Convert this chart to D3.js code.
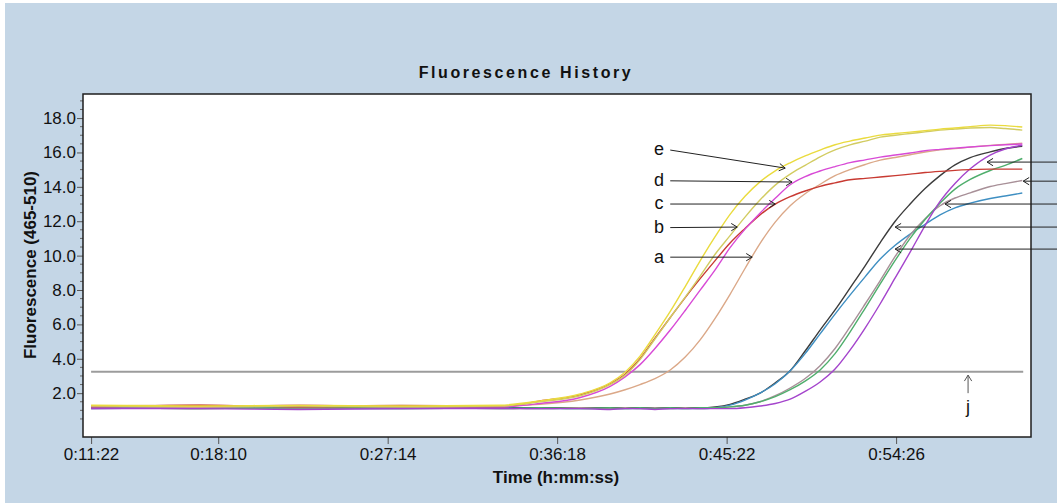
<!DOCTYPE html>
<html>
<head>
<meta charset="utf-8">
<script src="https://cdn.jsdelivr.net/npm/d3@7"></script>
<style>
  body { margin: 0; background: #fff; }
  svg { display: block; font-family: "Liberation Sans", Arial, sans-serif; }
</style>
</head>
<body>
<svg id="chart"></svg>
<script>
// sample times (seconds since start of run)
const times = [682, 1032, 1353, 1674, 1995, 2123, 2252, 2348, 2396, 2444, 2492, 2541, 2589, 2637, 2685,
  2733, 2781, 2829, 2878, 2926, 2974, 3022, 3070, 3118, 3167, 3215, 3263, 3311, 3359, 3407,
  3455, 3504, 3568, 3616, 3671];

// early group (labelled a-e)
const curveA = [1.25, 1.3, 1.2, 1.3, 1.25, 1.35, 1.6, 1.95, 2.2, 2.5, 2.85, 3.35, 4.1, 5.1, 6.35,
  7.75, 9.25, 10.7, 11.95, 12.9, 13.6, 14.15, 14.65, 15.0, 15.3,
  15.55, 15.71, 15.87, 16.03, 16.15, 16.22, 16.31, 16.41, 16.47, 16.54];
const curveB = [1.25, 1.2, 1.25, 1.2, 1.25, 1.5, 1.85, 2.5, 3.05, 3.95, 5.15, 6.4, 7.59, 8.81, 10.08,
  11.16, 12.24, 13.23, 14.1, 14.74, 15.25, 15.75, 16.15, 16.44, 16.66,
  16.89, 17.0, 17.1, 17.2, 17.3, 17.36, 17.42, 17.45, 17.39, 17.3];
const curveC = [1.2, 1.3, 1.2, 1.25, 1.2, 1.55, 1.9, 2.55, 3.1, 4.0, 5.2, 6.4, 7.56, 8.66, 9.71,
  10.73, 11.58, 12.37, 13.0, 13.43, 13.76, 14.03, 14.23, 14.41, 14.49,
  14.57, 14.65, 14.74, 14.83, 14.9, 14.96, 15.0, 15.03, 15.03, 15.03];
const curveD = [1.2, 1.2, 1.3, 1.2, 1.2, 1.4, 1.75, 2.4, 2.95, 3.66, 4.6, 5.67, 6.81, 7.99, 9.17,
  10.46, 11.54, 12.47, 13.33, 14.12, 14.59, 14.92, 15.18, 15.41, 15.57,
  15.73, 15.85, 15.97, 16.1, 16.18, 16.25, 16.32, 16.4, 16.45, 16.49];
const curveE = [1.3, 1.25, 1.3, 1.25, 1.3, 1.55, 1.95, 2.6, 3.22, 4.15, 5.4, 6.75, 8.2, 9.7, 11.1,
  12.4, 13.45, 14.29, 14.93, 15.4, 15.8, 16.14, 16.45, 16.66, 16.84,
  17.01, 17.1, 17.18, 17.27, 17.36, 17.42, 17.5, 17.59, 17.56, 17.48];

// late group
const curveBlack = [1.15, 1.1, 1.15, 1.1, 1.15, 1.15, 1.15, 1.15, 1.15, 1.15, 1.15, 1.15, 1.15, 1.15, 1.2,
  1.35, 1.65, 2.0, 2.6, 3.3, 4.45, 5.67, 6.84, 8.11, 9.42,
  10.76, 12.0, 13.0, 13.9, 14.65, 15.28, 15.7, 16.03, 16.23, 16.36];
const curveSteel = [1.1, 1.15, 1.1, 1.1, 1.15, 1.1, 1.1, 1.1, 1.1, 1.1, 1.1, 1.1, 1.1, 1.1, 1.15,
  1.3, 1.6, 2.0, 2.55, 3.3, 4.3, 5.45, 6.6, 7.7, 8.78,
  9.8, 10.6, 11.25, 11.82, 12.37, 12.78, 13.05, 13.32, 13.47, 13.64];
const curveGreen = [1.15, 1.1, 1.15, 1.15, 1.1, 1.15, 1.1, 1.15, 1.1, 1.15, 1.1, 1.15, 1.1, 1.15, 1.15,
  1.2, 1.3, 1.5, 1.8, 2.2, 2.7, 3.35, 4.3, 5.55, 6.95,
  8.35, 9.72, 11.0, 12.1, 13.05, 13.87, 14.43, 14.95, 15.25, 15.65];
const curveMauve = [1.1, 1.15, 1.1, 1.15, 1.1, 1.1, 1.15, 1.1, 1.15, 1.1, 1.15, 1.1, 1.15, 1.1, 1.15,
  1.2, 1.3, 1.5, 1.85, 2.3, 2.85, 3.6, 4.6, 5.85, 7.2,
  8.55, 9.95, 11.2, 12.15, 12.9, 13.35, 13.65, 14.02, 14.19, 14.37];
const curvePurple = [1.1, 1.1, 1.05, 1.1, 1.1, 1.1, 1.1, 1.05, 1.1, 1.1, 1.05, 1.1, 1.1, 1.1, 1.1,
  1.1, 1.15, 1.25, 1.4, 1.65, 2.1, 2.65, 3.4, 4.5, 5.8,
  7.2, 8.7, 10.2, 11.75, 13.15, 14.2, 15.05, 15.85, 16.2, 16.42];

const seriesValues = [curveBlack, curveSteel, curveMauve, curveGreen, curvePurple, curveA, curveC, curveD, curveB, curveE];
const seriesColors = ["#3c3c3c", "#3f8fc2", "#a89098", "#4fae6c", "#a444cc", "#dba888", "#c83a32", "#d84ad6", "#d2cc62", "#eadb3e"];

const thresholdValue = 3.24;
const thresholdTimes = [682, 3674];

const xTickTimes = [682, 1090, 1634, 2178, 2722, 3266];
const yTickValues = [2, 4, 6, 8, 10, 12, 14, 16, 18];

// annotations: letter labels with arrows
const leftLabels = ["e", "d", "c", "b", "a"];
const leftLabelValues = [16.14, 14.35, 13.0, 11.63, 9.91];
const leftTipTimes = [2910, 2932, 2878, 2756, 2804];
const leftTipValues = [15.09, 14.28, 13.0, 11.66, 9.91];
const labelTime = 2505;
const arrowStartTime = 2541;
const rightTipTimes = [3558, 3674, 3423, 3263, 3263];
const rightTipValues = [15.44, 14.33, 13.0, 11.66, 10.38];
const jTime = 3497;
const jTipValue = 3.05;
const jBaseValue = 2.0;
const jLabelValue = 0.84;

const W = 1057, H = 503;
const margin = {top: 94, right: 26, bottom: 66, left: 83};

const svg = d3.select("#chart").attr("width", W).attr("height", H);

svg.append("rect").attr("width", W).attr("height", H).attr("fill", "#ffffff");
svg.append("rect").attr("x", 5).attr("y", 3).attr("width", W - 5).attr("height", H - 3).attr("fill", "#c4d6e6");

const x = d3.scaleLinear().domain([656, 3699]).range([margin.left, W - margin.right]);
const y = d3.scaleLinear().domain([-0.55, 19.4]).range([H - margin.bottom, margin.top]);

const fmtTime = s => {
  const h = Math.floor(s / 3600), m = Math.floor((s % 3600) / 60), sec = Math.round(s % 60);
  return `${h}:${String(m).padStart(2, "0")}:${String(sec).padStart(2, "0")}`;
};

svg.append("defs").append("clipPath").attr("id", "plotclip")
  .append("rect")
  .attr("x", margin.left).attr("y", margin.top)
  .attr("width", W - margin.left - margin.right)
  .attr("height", H - margin.top - margin.bottom);

// plot area
svg.append("rect")
  .attr("x", margin.left).attr("y", margin.top)
  .attr("width", W - margin.left - margin.right)
  .attr("height", H - margin.top - margin.bottom)
  .attr("fill", "#ffffff");

// axes
const xAxis = d3.axisBottom(x).tickValues(xTickTimes).tickFormat(fmtTime).tickSize(7).tickPadding(4);
const gx = svg.append("g").attr("transform", `translate(0,${H - margin.bottom})`).call(xAxis);
gx.select(".domain").remove();
gx.selectAll("line").attr("stroke", "#555");
gx.selectAll("text").attr("font-size", 17).attr("fill", "#111");

const yAxis = d3.axisLeft(y).tickValues(yTickValues).tickFormat(d3.format(".1f")).tickSize(6).tickPadding(1);
const gy = svg.append("g").attr("transform", `translate(${margin.left},0)`).call(yAxis);
gy.select(".domain").remove();
gy.selectAll("line").attr("stroke", "#555");
gy.selectAll("text").attr("font-size", 17).attr("fill", "#111");

const minorTicks = d3.range(0, 19.01, 0.5).filter(v => v % 2 !== 0);
svg.append("g").selectAll("line").data(minorTicks).join("line")
  .attr("x1", margin.left - 3).attr("x2", margin.left)
  .attr("y1", d => y(d)).attr("y2", d => y(d))
  .attr("stroke", "#666");

// titles
svg.append("text")
  .attr("x", 526).attr("y", 78)
  .attr("text-anchor", "middle")
  .attr("font-size", 16).attr("font-weight", "bold")
  .attr("letter-spacing", "2.6px")
  .attr("fill", "#111")
  .text("Fluorescence History");

svg.append("text")
  .attr("transform", "translate(36,265) rotate(-90)")
  .attr("text-anchor", "middle")
  .attr("font-size", 17).attr("font-weight", "bold")
  .attr("fill", "#111")
  .text("Fluorescence (465-510)");

svg.append("text")
  .attr("x", 556).attr("y", 483)
  .attr("text-anchor", "middle")
  .attr("font-size", 17).attr("font-weight", "bold")
  .attr("fill", "#111")
  .text("Time (h:mm:ss)");

// curves
const plot = svg.append("g").attr("clip-path", "url(#plotclip)");

plot.append("path")
  .datum(thresholdTimes)
  .attr("d", d3.line().x(d => x(d)).y(() => y(thresholdValue)))
  .attr("fill", "none")
  .attr("stroke", "#9c9c9c")
  .attr("stroke-width", 2);

const line = d3.line()
  .x((d, i) => x(times[i]))
  .y(d => y(d))
  .curve(d3.curveMonotoneX);

plot.selectAll("path.curve")
  .data(seriesValues)
  .join("path")
  .attr("class", "curve")
  .attr("d", line)
  .attr("fill", "none")
  .attr("stroke", (d, i) => seriesColors[i])
  .attr("stroke-width", 1.4);

// annotation arrows
const ann = svg.append("g");

function arrow(x1, y1, x2, y2, colour) {
  const a = Math.atan2(y2 - y1, x2 - x1), L = 7, w = 0.55;
  const p = d3.path();
  p.moveTo(x1, y1); p.lineTo(x2, y2);
  p.moveTo(x2 - L * Math.cos(a - w), y2 - L * Math.sin(a - w));
  p.lineTo(x2, y2);
  p.lineTo(x2 - L * Math.cos(a + w), y2 - L * Math.sin(a + w));
  ann.append("path").attr("d", p.toString())
    .attr("fill", "none").attr("stroke", colour || "#222").attr("stroke-width", 1);
}

leftLabels.forEach((lab, i) => {
  ann.append("text")
    .attr("x", x(labelTime)).attr("y", y(leftLabelValues[i]))
    .attr("dy", "0.3em")
    .attr("text-anchor", "middle")
    .attr("font-size", 18).attr("fill", "#111")
    .text(lab);
  arrow(x(arrowStartTime), y(leftLabelValues[i]), x(leftTipTimes[i]), y(leftTipValues[i]));
});

rightTipTimes.forEach((t, i) => {
  arrow(W, y(rightTipValues[i]), x(t), y(rightTipValues[i]));
});

arrow(x(jTime), y(jBaseValue), x(jTime), y(jTipValue), "#555");
ann.append("text")
  .attr("x", x(jTime)).attr("y", y(jLabelValue))
  .attr("text-anchor", "middle")
  .attr("font-size", 18).attr("fill", "#111")
  .text("j");

// frame
svg.append("rect")
  .attr("x", margin.left).attr("y", margin.top)
  .attr("width", W - margin.left - margin.right)
  .attr("height", H - margin.top - margin.bottom)
  .attr("fill", "none")
  .attr("stroke", "#1e1e1e")
  .attr("stroke-width", 1.5);
</script>
</body>
</html>
